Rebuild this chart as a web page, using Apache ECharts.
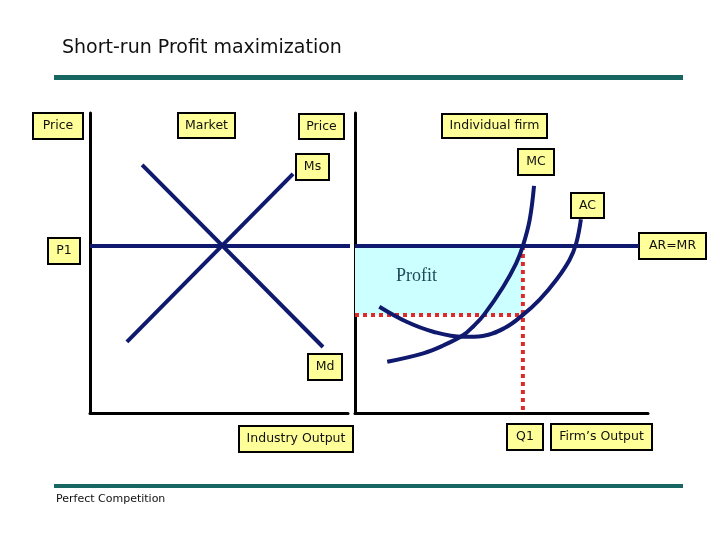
<!DOCTYPE html>
<html>
<head>
<meta charset="utf-8">
<script src="https://cdn.jsdelivr.net/npm/echarts@6/dist/echarts.min.js"></script>
<style>
  html, body { margin: 0; padding: 0; background: #fff; }
  #main { width: 720px; height: 540px; }
</style>
</head>
<body>
<div id="main"></div>
<script>
// market panel (units 0..10 on both axes)
const marketSupply = [[1.43, 2.37], [7.87, 7.97]];
const marketDemand = [[2.02, 8.27], [9.03, 2.2]];
// equilibrium price and firm output
const priceP1 = 5.57;
const outputQ1 = 5.73;
const avgCostAtQ1 = 3.27;
// firm cost curves
const mcCurve = [[1.10, 1.71], [2.33, 1.99], [3.01, 2.25], [3.70, 2.60], [4.05, 2.90],
  [4.40, 3.27], [5.06, 4.21], [5.50, 4.99], [5.73, 5.57], [5.96, 6.43], [6.11, 7.57]];
const acCurve = [[0.83, 3.54], [1.76, 3.04], [2.67, 2.71], [3.68, 2.54], [4.36, 2.57],
  [5.12, 2.84], [5.73, 3.27], [6.31, 3.79], [6.88, 4.45], [7.32, 5.10], [7.55, 5.66],
  [7.71, 6.46]];
const arEnd = 9.69;

// texts
const titleText = "Short-run Profit maximization";
const footText = "Perfect Competition";
const profitText = "Profit";
const boxTexts = ["Price", "Market", "Price", "Individual firm", "Ms", "MC", "AC",
  "AR=MR", "P1", "Md", "Industry Output", "Q1", "Firm\u2019s Output"];

const NAVY = "#0f1a6e";
const RED = "#dd2a2a";
const TEAL = "#186662";
const FONT = "'DejaVu Sans', Verdana, sans-serif";

// box positions: [left, top, width, height]
const boxPos = [
  [33, 113, 50, 26], [178, 113, 57, 25], [299, 114, 45, 25], [442, 114, 105, 24],
  [296, 154, 33, 26], [518, 149, 36, 26], [571, 193, 33, 25], [639, 233, 67, 26],
  [48, 238, 32, 26], [308, 354, 34, 26], [239, 426, 114, 26], [507, 424, 36, 26],
  [551, 424, 101, 26]
];

function labelBox(text, p) {
  return {
    type: "group",
    z: 100,
    children: [
      { type: "rect", shape: { x: p[0], y: p[1], width: p[2], height: p[3] },
        style: { fill: "#ffff99", stroke: "#000", lineWidth: 2 } },
      { type: "text", style: { text: text, x: p[0] + p[2] / 2, y: p[1] + p[3] / 2,
        align: "center", verticalAlign: "middle", fill: "#111",
        font: "12.5px " + FONT } }
    ]
  };
}

function axisCfg(idx) {
  return {
    type: "value", gridIndex: idx, min: 0, max: 10,
    axisLine: { show: true, onZero: false, lineStyle: { color: "#000", width: 3 } },
    axisTick: { show: false }, axisLabel: { show: false }, splitLine: { show: false }
  };
}

function navyLine(grid, data, extra) {
  return Object.assign({
    type: "line", xAxisIndex: grid, yAxisIndex: grid, data: data,
    showSymbol: false, clip: false, silent: true,
    lineStyle: { color: NAVY, width: 4 }, z: 5
  }, extra || {});
}

function redDots(data) {
  return {
    type: "line", xAxisIndex: 1, yAxisIndex: 1, data: data, showSymbol: false,
    silent: true, z: 4, clip: false,
    lineStyle: { color: RED, width: 4, type: "dotted", cap: "butt" }
  };
}

const chart = echarts.init(document.getElementById("main"));
chart.setOption({
  animation: false,
  backgroundColor: "#fff",
  grid: [
    { left: 90, top: 113, width: 258, height: 300 },
    { left: 355, top: 113, width: 293, height: 300 }
  ],
  xAxis: [axisCfg(0), axisCfg(1)],
  yAxis: [axisCfg(0), axisCfg(1)],
  series: [
    navyLine(0, marketSupply),
    navyLine(0, marketDemand),
    navyLine(0, [[0, priceP1], [10.3, priceP1]]),
    navyLine(1, [[0, priceP1], [arEnd, priceP1]], {
      z: 6,
      markArea: {
        silent: true,
        itemStyle: { color: "#ccffff" },
        label: {
          show: true, position: "insideLeft", offset: [36, -4],
          color: "#1d4a58", fontFamily: "'Liberation Serif', serif", fontSize: 18
        },
        data: [[{ name: profitText, xAxis: 0, yAxis: priceP1 },
          { xAxis: outputQ1, yAxis: avgCostAtQ1 }]]
      }
    }),
    redDots([[0, avgCostAtQ1], [outputQ1, avgCostAtQ1]]),
    redDots([[outputQ1, priceP1], [outputQ1, 0]]),
    navyLine(1, mcCurve, { smooth: 0.4 }),
    navyLine(1, acCurve, { smooth: 0.4 })
  ],
  graphic: [
    { type: "text", style: { text: titleText, x: 62, y: 48, verticalAlign: "middle",
      fill: "#111", font: "19px " + FONT } },
    { type: "rect", shape: { x: 54, y: 75, width: 629, height: 5 }, style: { fill: TEAL } },
    { type: "rect", shape: { x: 54, y: 484, width: 629, height: 4 }, style: { fill: TEAL } },
    { type: "text", style: { text: footText, x: 56, y: 499, verticalAlign: "middle",
      fill: "#111", font: "11px " + FONT } }
  ].concat(boxTexts.map((t, i) => labelBox(t, boxPos[i])))
});
</script>
</body>
</html>
